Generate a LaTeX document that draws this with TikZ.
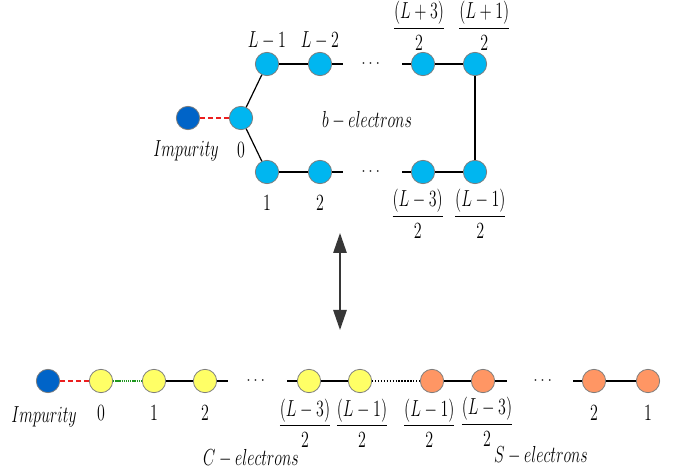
\documentclass[tikz,border=0pt]{standalone}
\usepackage{amsmath}
\usetikzlibrary{arrows.meta, positioning}
\definecolor{siteblue}{RGB}{0,182,240}
\definecolor{impblue}{RGB}{0,100,200}
\definecolor{siteyellow}{RGB}{255,255,102}
\definecolor{siteorange}{RGB}{255,150,100}
\definecolor{rimgray}{RGB}{125,125,125}
\definecolor{arrowgray}{RGB}{55,55,55}
\definecolor{hopgreen}{RGB}{30,150,30}
\definecolor{hopred}{RGB}{235,30,30}
\newcommand{\tallbox}[1]{\scalebox{1}[1.45]{#1}}
\tikzset{
  site/.style={circle, draw=rimgray, line width=0.6pt, minimum size=17.5pt, inner sep=0pt},
  bsite/.style={site, fill=siteblue},
  csite/.style={site, fill=siteyellow},
  ssite/.style={site, fill=siteorange},
  impsite/.style={site, fill=impblue},
  lab/.style={font=\fontsize{11.5}{14}\selectfont, inner sep=1pt},
  bond/.style={line width=0.9pt, draw=black},
  impbond/.style={line width=1.5pt, draw=hopred, dash pattern=on 3.5pt off 2.5pt},
  greenbond/.style={line width=1.3pt, draw=hopgreen, dash pattern=on 1pt off 0.6pt},
  dotbond/.style={line width=0.9pt, draw=black, dash pattern=on 1pt off 1.2pt},
  maparrow/.style={{Triangle[length=15pt, width=10pt]}-{Triangle[length=15pt, width=10pt]}, line width=1.3pt, draw=arrowgray}
}

\begin{document}
\begin{tikzpicture}[x=0.75pt, y=-0.75pt]
  \path[use as bounding box] (0,0) rectangle (675,470);

  % b-electrons (folded chain)
  \node[impsite] (bimp) at (188,118) {};
  \node[bsite] (b0) at (241,118) {};
  \node[bsite] (bL1) at (267,64) {};
  \node[bsite] (bL2) at (320,64) {};
  \node[bsite] (bL3h) at (423,64) {};
  \node[bsite] (bL1h) at (475,64) {};
  \node[bsite] (b1) at (267,172) {};
  \node[bsite] (b2) at (320,172) {};
  \node[bsite] (bLm3h) at (423,172) {};
  \node[bsite] (bLm1h) at (475,172) {};
  \coordinate (btopend) at (343,64);
  \coordinate (btopstart) at (402,64);
  \coordinate (bbotend) at (343,172);
  \coordinate (bbotstart) at (402,172);
  \node[lab] (btopdots) at (372,64) {$\cdots$};
  \node[lab] (bbotdots) at (372,172) {$\cdots$};

  \draw[impbond] (bimp) -- (b0);
  \draw[bond] (b0) -- (bL1);
  \draw[bond] (b0) -- (b1);
  \draw[bond] (bL1) -- (bL2) -- (btopend);
  \draw[bond] (btopstart) -- (bL3h) -- (bL1h) -- (bLm1h);
  \draw[bond] (b1) -- (b2) -- (bbotend);
  \draw[bond] (bbotstart) -- (bLm3h) -- (bLm1h);

  \node[lab, below=7pt of bimp, xshift=-1.5pt] (bimplab) {\tallbox{$Impurity$}};
  \node[lab, below=8pt of b0] (b0lab) {\tallbox{$0$}};
  \node[lab, above=1pt of bL1] (bL1lab) {\tallbox{$L-1$}};
  \node[lab, above=1pt of bL2] (bL2lab) {\tallbox{$L-2$}};
  \node[lab, above=0pt of bL3h, xshift=-3pt] (bL3hlab) {\tallbox{$\dfrac{(L+3)}{2}$}};
  \node[lab, above=0pt of bL1h, xshift=7pt] (bL1hlab) {\tallbox{$\dfrac{(L+1)}{2}$}};
  \node[lab, below=7.5pt of b1] (b1lab) {\tallbox{$1$}};
  \node[lab, below=7.5pt of b2] (b2lab) {\tallbox{$2$}};
  \node[lab, below=2.5pt of bLm3h, xshift=-4pt] (bLm3hlab) {\tallbox{$\dfrac{(L-3)}{2}$}};
  \node[lab, below=2.5pt of bLm1h, xshift=4pt] (bLm1hlab) {\tallbox{$\dfrac{(L-1)}{2}$}};
  \node[lab] (bname) at (367,120) {\tallbox{$b-electrons$}};

  % mapping
  \coordinate (maptop) at (340,233);
  \coordinate (mapbot) at (340,330);
  \draw[maparrow] (maptop) -- (mapbot);

  % C- and S-electrons (unfolded chain)
  \node[impsite] (cimp) at (48,381) {};
  \node[csite] (c0) at (101,381) {};
  \node[csite] (c1) at (154,381) {};
  \node[csite] (c2) at (205,381) {};
  \node[csite] (cLm3h) at (309,381) {};
  \node[csite] (cLm1h) at (360,381) {};
  \node[ssite] (sLm1h) at (432,381) {};
  \node[ssite] (sLm3h) at (483,381) {};
  \node[ssite] (s2) at (594,381) {};
  \node[ssite] (s1) at (648,381) {};
  \coordinate (cend) at (228,381);
  \coordinate (cstart) at (287,381);
  \coordinate (send) at (507,381);
  \coordinate (sstart) at (573,381);
  \node[lab] (cdots) at (257,381) {$\cdots$};
  \node[lab] (sdots) at (544,381) {$\cdots$};

  \draw[impbond] (cimp) -- (c0);
  \draw[greenbond] (c0) -- (c1);
  \draw[bond] (c1) -- (c2) -- (cend);
  \draw[bond] (cstart) -- (cLm3h) -- (cLm1h);
  \draw[dotbond] (cLm1h) -- (sLm1h);
  \draw[bond] (sLm1h) -- (sLm3h) -- (send);
  \draw[bond] (sstart) -- (s2) -- (s1);

  \node[lab, below=9pt of cimp, xshift=-3pt] (cimplab) {\tallbox{$Impurity$}};
  \node[lab, below=8pt of c0] (c0lab) {\tallbox{$0$}};
  \node[lab, below=8pt of c1] (c1lab) {\tallbox{$1$}};
  \node[lab, below=8pt of c2] (c2lab) {\tallbox{$2$}};
  \node[lab, below=3pt of cLm3h, xshift=-3pt] (cLm3hlab) {\tallbox{$\dfrac{(L-3)}{2}$}};
  \node[lab, below=3pt of cLm1h, xshift=1.5pt] (cLm1hlab) {\tallbox{$\dfrac{(L-1)}{2}$}};
  \node[lab, below=3pt of sLm1h, xshift=-2pt] (sLm1hlab) {\tallbox{$\dfrac{(L-1)}{2}$}};
  \node[lab, below=2pt of sLm3h, xshift=3pt] (sLm3hlab) {\tallbox{$\dfrac{(L-3)}{2}$}};
  \node[lab, below=8pt of s2] (s2lab) {\tallbox{$2$}};
  \node[lab, below=8pt of s1] (s1lab) {\tallbox{$1$}};
  \node[lab] (cname) at (251,458) {\tallbox{$C-electrons$}};
  \node[lab] (sname) at (541,455) {\tallbox{$S-electrons$}};
\end{tikzpicture}
\end{document}
